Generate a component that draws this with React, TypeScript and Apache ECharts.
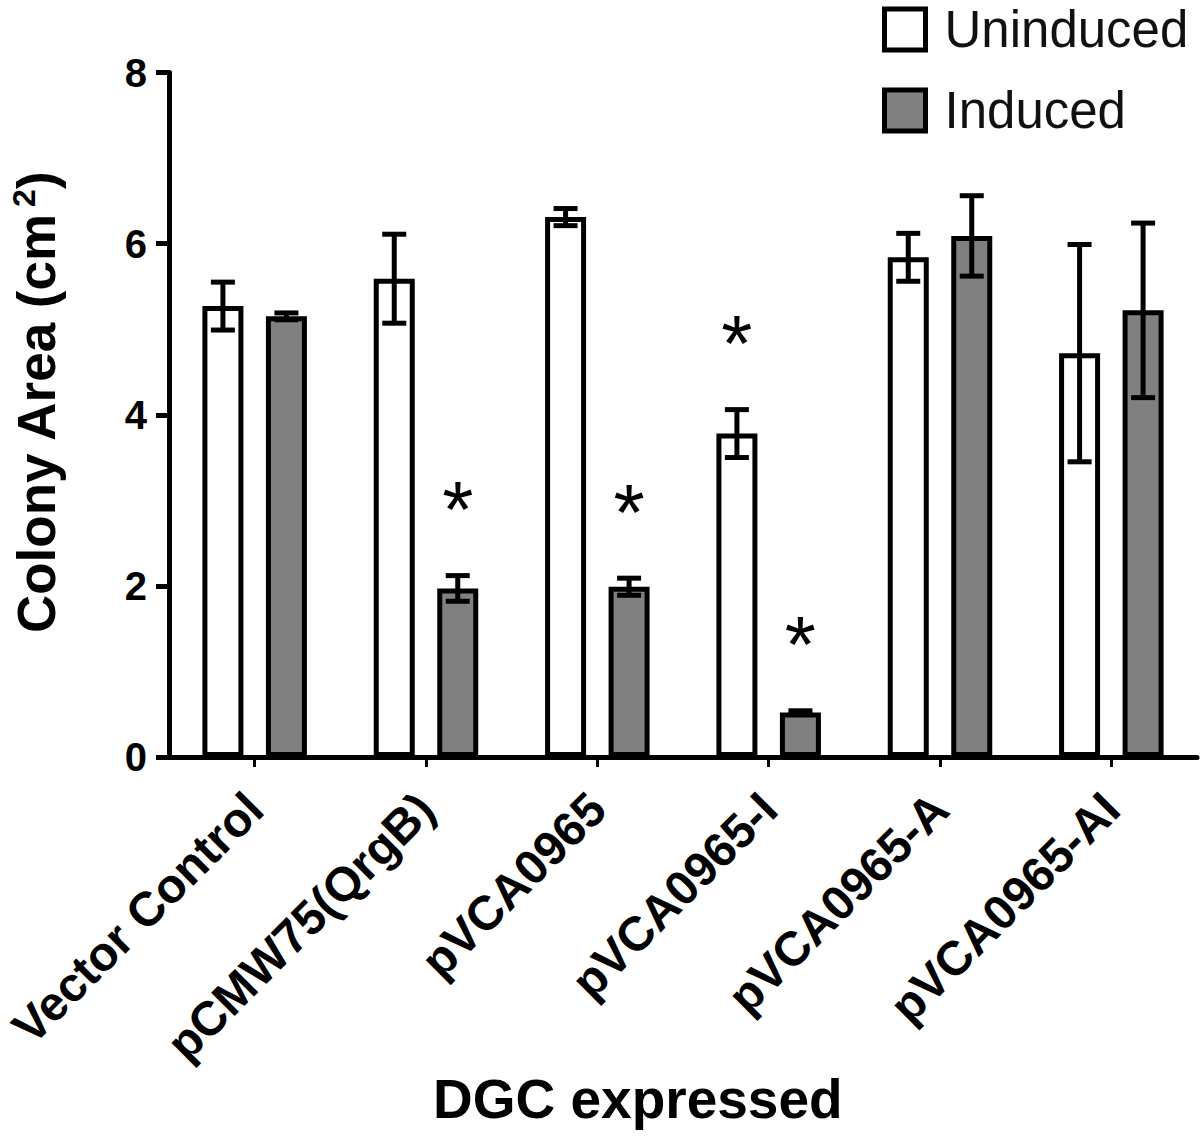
import React, { useEffect, useRef } from "react";
import * as echarts from "echarts";

const categories = [
  "Vector Control",
  "pCMW75(QrgB)",
  "pVCA0965",
  "pVCA0965-I",
  "pVCA0965-A",
  "pVCA0965-AI",
];
const uninduced = [5.27, 5.59, 6.31, 3.78, 5.84, 4.72];
const uninducedErr = [0.28, 0.52, 0.1, 0.28, 0.28, 1.27];
const induced = [5.15, 1.97, 1.99, 0.52, 6.09, 5.22];
const inducedErr = [0.04, 0.15, 0.1, 0.02, 0.47, 1.02];
const uninducedSignificant = [false, false, false, true, false, false];
const inducedSignificant = [false, true, true, true, false, false];
const yMin = 0;
const yMax = 8;
const yStep = 2;

const FONT = 'Arial, "Liberation Sans", Helvetica, sans-serif';
const BAR_W = 41;
const BAR_GAP = 22.5;
const CAP = 12;
const ASTERISK_GAP = 66;

function errorSeries(
  name: string,
  values: number[],
  errs: number[],
  sig: boolean[],
  side: number
) {
  const offset = (side * (BAR_W + BAR_GAP)) / 2;
  return {
    type: "custom",
    name,
    z: 5,
    data: values.map((v, i) => [i, v, errs[i], sig[i] ? 1 : 0]),
    encode: { x: 0, y: 1 },
    renderItem: (params: any, api: any) => {
      const i = api.value(0);
      const v = api.value(1);
      const e = api.value(2);
      const s = api.value(3);
      const top = api.coord([i, v + e]);
      const bot = api.coord([i, v - e]);
      const x = top[0] + offset;
      const st = { stroke: "#000", lineWidth: 5 };
      const children: any[] = [
        { type: "line", shape: { x1: x, y1: top[1], x2: x, y2: bot[1] }, style: st },
        { type: "line", shape: { x1: x - CAP, y1: top[1], x2: x + CAP, y2: top[1] }, style: st },
        { type: "line", shape: { x1: x - CAP, y1: bot[1], x2: x + CAP, y2: bot[1] }, style: st },
      ];
      if (s) {
        children.push({
          type: "text",
          x,
          y: top[1] - ASTERISK_GAP,
          style: {
            text: "*",
            fontSize: 80,
            fontFamily: FONT,
            fill: "#000",
            align: "center",
            verticalAlign: "middle",
          },
        });
      }
      return { type: "group", children };
    },
  };
}

export default function App() {
  const ref = useRef<HTMLDivElement>(null);
  useEffect(() => {
    document.body.style.margin = "0";
    const chart = echarts.init(ref.current!, null, { renderer: "svg" });
    chart.setOption({
      animation: false,
      backgroundColor: "#fff",
      title: {
        text: "DGC expressed",
        left: 428,
        top: 1066,
        textStyle: { fontSize: 55, fontWeight: "bold", color: "#000", fontFamily: FONT },
      },
      legend: {
        data: ["Uninduced", "Induced"],
        orient: "vertical",
        left: 882,
        top: 4,
        padding: 0,
        itemWidth: 41,
        itemHeight: 41,
        itemGap: 30,
        icon: "rect",
        itemStyle: { borderWidth: 5, borderColor: "#000" },
        textStyle: {
          fontSize: 51,
          lineHeight: 46,
          color: "#111",
          fontFamily: FONT,
          padding: [0, 0, 0, 14],
        },
      },
      grid: { left: 166, right: 3, top: 72.5, bottom: 381, containLabel: false },
      xAxis: {
        type: "category",
        data: categories,
        axisLine: { show: true, lineStyle: { color: "#000", width: 5 } },
        axisTick: { show: true, alignWithLabel: true, length: 10, lineStyle: { color: "#000", width: 3 } },
        axisLabel: {
          rotate: 45,
          interval: 0,
          margin: 44,
          fontSize: 48,
          fontWeight: "bold",
          color: "#000",
          fontFamily: FONT,
        },
      },
      yAxis: {
        type: "value",
        min: yMin,
        max: yMax,
        interval: yStep,
        name: "Colony Area (cm{sup|2})",
        nameLocation: "middle",
        nameRotate: 90,
        nameGap: 105,
        nameTextStyle: {
          fontSize: 53,
          fontWeight: "bold",
          color: "#000",
          fontFamily: FONT,
          padding: [0, 0, 0, 24],
          rich: {
            sup: { fontSize: 32, fontWeight: "bold", color: "#000", fontFamily: FONT, verticalAlign: "top", padding: [0, 0, 24, 6] },
          },
        },
        splitLine: { show: false },
        axisLine: { show: true, lineStyle: { color: "#000", width: 5 } },
        axisTick: { show: true, length: 13, lineStyle: { color: "#000", width: 5 } },
        axisLabel: { fontSize: 40, fontWeight: "bold", color: "#000", fontFamily: FONT, margin: 22 },
      },
      series: [
        {
          type: "bar",
          name: "Uninduced",
          data: uninduced,
          barWidth: BAR_W,
          barGap: (BAR_GAP / BAR_W) * 100 + "%",
          itemStyle: { color: "#fff", borderColor: "#000", borderWidth: 5 },
        },
        {
          type: "bar",
          name: "Induced",
          data: induced,
          barWidth: BAR_W,
          barGap: (BAR_GAP / BAR_W) * 100 + "%",
          itemStyle: { color: "#808080", borderColor: "#000", borderWidth: 5 },
        },
        errorSeries("Uninduced error", uninduced, uninducedErr, uninducedSignificant, -1),
        errorSeries("Induced error", induced, inducedErr, inducedSignificant, 1),
      ],
    });
    return () => chart.dispose();
  }, []);
  return <div ref={ref} style={{ width: 1200, height: 1138 }} />;
}
